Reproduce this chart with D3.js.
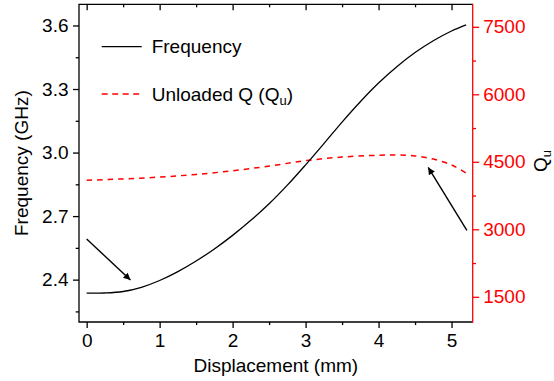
<!DOCTYPE html>
<html>
<head>
<meta charset="utf-8">
<script src="https://cdn.jsdelivr.net/npm/d3@7"></script>
<style>
  body { margin: 0; background: #fff; }
  svg text { font-family: "Liberation Sans", Arial, sans-serif; }
</style>
</head>
<body>
<div id="chart"></div>
<script>
// displacement (mm) vs resonant frequency (GHz)
const freqX = [0, 0.25, 0.5, 0.75, 1.0, 1.25, 1.5, 1.75, 2.0, 2.25, 2.5, 2.75, 3.0, 3.25, 3.5, 3.75, 4.0, 4.25, 4.5, 4.75, 5.0, 5.2];
const freqY = [2.336, 2.337, 2.344, 2.364, 2.396, 2.438, 2.488, 2.545, 2.609, 2.68, 2.758, 2.846, 2.942, 3.042, 3.144, 3.24, 3.328, 3.405, 3.472, 3.528, 3.574, 3.603];

// displacement (mm) vs unloaded Q
const qX = [0, 0.5, 1.0, 1.5, 2.0, 2.5, 3.0, 3.5, 4.0, 4.25, 4.5, 4.75, 5.0, 5.2];
const qY = [4090, 4120, 4160, 4220, 4300, 4405, 4525, 4605, 4645, 4650, 4630, 4560, 4430, 4250];

const xTicks = [0, 1, 2, 3, 4, 5];
const freqTicks = [2.4, 2.7, 3.0, 3.3, 3.6];
const qTicks = [1500, 3000, 4500, 6000, 7500];

// annotation arrows, [x, freq] start -> end
const arrowLeft = [[0, 2.592], [0.6, 2.398]];
const arrowRight = [[5.21, 2.633], [4.68, 2.93]];

const width = 554, height = 381;
const L = 79, R = 472.7, T = 4.3, B = 322;

const svg = d3.select("#chart").append("svg")
  .attr("width", width)
  .attr("height", height);

const x = d3.scaleLinear().domain([-0.105, 5.29]).range([L, R]);
const yL = d3.scaleLinear().domain([2.2, 3.7]).range([B, T]);
const yR = d3.scaleLinear().domain([940, 8000]).range([B, T]);

// half-way ticks, kept inside the scale's domain
const minor = (scale, ticks, step) => {
  const [a, b] = d3.extent(scale.domain());
  return ticks.map((d) => d + step / 2)
    .concat([ticks[0] - step / 2])
    .filter((d) => d >= a && d <= b);
};

svg.append("defs").append("marker")
  .attr("id", "head")
  .attr("viewBox", "0 0 10 10")
  .attr("refX", 10)
  .attr("refY", 5)
  .attr("markerWidth", 12)
  .attr("markerHeight", 7)
  .attr("markerUnits", "userSpaceOnUse")
  .attr("orient", "auto")
  .append("path")
  .attr("d", "M0,0L10,5L0,10z")
  .attr("fill", "#000");

// curves
const freqLine = d3.line()
  .x((d) => x(d[0]))
  .y((d) => yL(d[1]))
  .curve(d3.curveCatmullRom.alpha(0.5));

const qLine = d3.line()
  .x((d) => x(d[0]))
  .y((d) => yR(d[1]))
  .curve(d3.curveCatmullRom.alpha(0.5));

svg.append("path")
  .datum(d3.zip(qX, qY))
  .attr("d", qLine)
  .attr("fill", "none")
  .attr("stroke", "#ff0000")
  .attr("stroke-width", 1.5)
  .attr("stroke-dasharray", "5.5,5");

svg.append("path")
  .datum(d3.zip(freqX, freqY))
  .attr("d", freqLine)
  .attr("fill", "none")
  .attr("stroke", "#000")
  .attr("stroke-width", 1.3);

[arrowLeft, arrowRight].forEach((a) => {
  svg.append("line")
    .attr("x1", x(a[0][0]))
    .attr("y1", yL(a[0][1]))
    .attr("x2", x(a[1][0]))
    .attr("y2", yL(a[1][1]))
    .attr("stroke", "#000")
    .attr("stroke-width", 1.4)
    .attr("marker-end", "url(#head)");
});

// axes
function styleAxis(g, color) {
  g.select(".domain").remove();
  g.selectAll("line").attr("stroke", color).attr("stroke-width", 1.3);
  g.selectAll("text").attr("fill", color).attr("font-size", 19);
}

svg.append("g")
  .attr("transform", `translate(0,${B})`)
  .call(d3.axisBottom(x).tickValues(xTicks).tickSize(6).tickPadding(5.3).tickFormat(d3.format("d")))
  .call((g) => styleAxis(g, "#000"));
svg.append("g")
  .attr("transform", `translate(0,${B})`)
  .call(d3.axisBottom(x).tickValues(minor(x, xTicks, 1)).tickSize(3).tickFormat(""))
  .call((g) => styleAxis(g, "#000"));

svg.append("g")
  .attr("transform", `translate(0,${T})`)
  .call(d3.axisBottom(x).tickValues(xTicks).tickSize(6).tickFormat(""))
  .call((g) => styleAxis(g, "#000"));
svg.append("g")
  .attr("transform", `translate(0,${T})`)
  .call(d3.axisBottom(x).tickValues(minor(x, xTicks, 1)).tickSize(3).tickFormat(""))
  .call((g) => styleAxis(g, "#000"));

svg.append("g")
  .attr("transform", `translate(${L},0)`)
  .call(d3.axisLeft(yL).tickValues(freqTicks).tickSize(6).tickPadding(4.5).tickFormat(d3.format(".1f")))
  .call((g) => styleAxis(g, "#000"));
svg.append("g")
  .attr("transform", `translate(${L},0)`)
  .call(d3.axisLeft(yL).tickValues(minor(yL, freqTicks, 0.3)).tickSize(3.3).tickFormat(""))
  .call((g) => styleAxis(g, "#000"));

svg.append("g")
  .attr("transform", `translate(${R},0)`)
  .call(d3.axisRight(yR).tickValues(qTicks).tickSize(6.5).tickPadding(4).tickFormat(d3.format("d")))
  .call((g) => styleAxis(g, "#ff0000"));
svg.append("g")
  .attr("transform", `translate(${R},0)`)
  .call(d3.axisRight(yR).tickValues(minor(yR, qTicks, 1500)).tickSize(3.3).tickFormat(""))
  .call((g) => styleAxis(g, "#ff0000"));

// frame
svg.append("path")
  .attr("d", `M${R},${T}H${L}V${B}H${R}`)
  .attr("fill", "none")
  .attr("stroke", "#000")
  .attr("stroke-width", 1.3);
svg.append("line")
  .attr("x1", R).attr("x2", R)
  .attr("y1", T - 0.65).attr("y2", B + 0.65)
  .attr("stroke", "#ff0000")
  .attr("stroke-width", 1.3);

// axis titles
svg.append("text")
  .attr("x", (L + R) / 2)
  .attr("y", 372)
  .attr("text-anchor", "middle")
  .attr("font-size", 19)
  .text("Displacement (mm)");

svg.append("text")
  .attr("transform", `translate(28,${(T + B) / 2}) rotate(-90)`)
  .attr("text-anchor", "middle")
  .attr("font-size", 19)
  .text("Frequency (GHz)");

const qLabel = svg.append("text")
  .attr("transform", `translate(547,161) rotate(-90)`)
  .attr("text-anchor", "middle")
  .attr("font-size", 19);
qLabel.append("tspan").text("Q");
qLabel.append("tspan").attr("font-size", 13).attr("dy", 4).text("u");

// legend
svg.append("line")
  .attr("x1", 101.7).attr("x2", 141.7)
  .attr("y1", 46.7).attr("y2", 46.7)
  .attr("stroke", "#000")
  .attr("stroke-width", 1.3);
svg.append("text")
  .attr("x", 151.7).attr("y", 53.3)
  .attr("font-size", 19)
  .text("Frequency");

svg.append("line")
  .attr("x1", 101.7).attr("x2", 141.7)
  .attr("y1", 94).attr("y2", 94)
  .attr("stroke", "#ff0000")
  .attr("stroke-width", 1.5)
  .attr("stroke-dasharray", "6,4.5");
const qLeg = svg.append("text")
  .attr("x", 151.7).attr("y", 100.7)
  .attr("font-size", 19);
qLeg.append("tspan").text("Unloaded Q (Q");
qLeg.append("tspan").attr("font-size", 13).attr("dy", 4).text("u");
qLeg.append("tspan").attr("dy", -4).text(")");
</script>
</body>
</html>
